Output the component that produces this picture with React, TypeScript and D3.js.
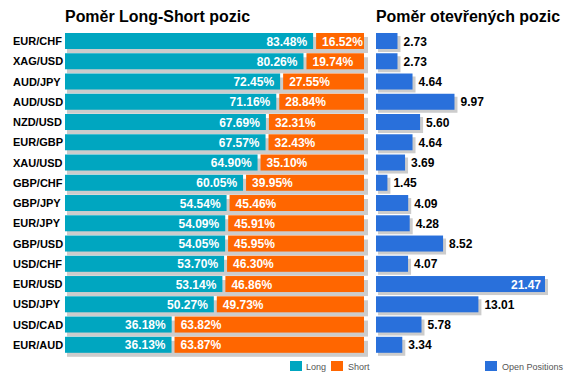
import React from "react";
import * as d3 from "d3";

const pairs = ["EUR/CHF","XAG/USD","AUD/JPY","AUD/USD","NZD/USD","EUR/GBP","XAU/USD","GBP/CHF","GBP/JPY","EUR/JPY","GBP/USD","USD/CHF","EUR/USD","USD/JPY","USD/CAD","EUR/AUD"];
const longPct = [83.48,80.26,72.45,71.16,67.69,67.57,64.90,60.05,54.54,54.09,54.05,53.70,53.14,50.27,36.18,36.13];
const shortPct = [16.52,19.74,27.55,28.84,32.31,32.43,35.10,39.95,45.46,45.91,45.95,46.30,46.86,49.73,63.82,63.87];
const openPos = [2.73,2.73,4.64,9.97,5.60,4.64,3.69,1.45,4.09,4.28,8.52,4.07,21.47,13.01,5.78,3.34];

const TEAL = "#00A6C0";
const ORANGE = "#FF6600";
const BLUE = "#2970DB";
const SHADOW = "#CCCCCC";
const FONT = "'Liberation Sans', Arial, sans-serif";

export default function App() {
  const W = 571, H = 382;
  const y = d3.scaleBand<string>().domain(pairs).range([33, 353]).paddingInner(0.2).paddingOuter(0);
  const xL = d3.scaleLinear().domain([0, 100]).range([65, 364]);
  const xR = d3.scaleLinear().domain([0, 21.47]).range([376, 545]);
  const bh = 16;
  const gap = 1.5;
  return (
    <svg width={W} height={H} style={{ position: "absolute", left: 0, top: 0, background: "#fff" }} fontFamily={FONT}>
      <text x={65} y={22} fontSize={16} fontWeight="bold" fill="#000" textLength={185} lengthAdjust="spacingAndGlyphs">Poměr Long-Short pozic</text>
      <text x={376} y={22} fontSize={16} fontWeight="bold" fill="#000" textLength={184} lengthAdjust="spacingAndGlyphs">Poměr otevřených pozic</text>
      {pairs.map((p, i) => {
        const y0 = (y(p) as number);
        const lEnd = xL(longPct[i]);
        return (
          <g key={p}>
            <text x={13} y={y0 + bh / 2 + 4} fontSize={11} fontWeight="bold" fill="#000">{p}</text>
            <rect x={xL(0) + 2} y={y0 + 4} width={xL(100) - xL(0) + 2} height={bh} fill={SHADOW} />
            <rect x={xL(0)} y={y0} width={lEnd - gap - xL(0)} height={bh} fill={TEAL} />
            <rect x={lEnd + gap} y={y0} width={xL(100) - lEnd - gap} height={bh} fill={ORANGE} />
            <text x={lEnd - gap - 6} y={y0 + bh / 2 + 4.5} fontSize={12} fontWeight="bold" fill="#fff" textAnchor="end">{longPct[i].toFixed(2)}%</text>
            <text x={lEnd + gap + 6} y={y0 + bh / 2 + 4.5} fontSize={12} fontWeight="bold" fill="#fff">{shortPct[i].toFixed(2)}%</text>
            <rect x={xR(0) + 2} y={y0 + 3} width={xR(openPos[i]) - xR(0) + 1} height={bh} fill={SHADOW} />
            <rect x={xR(0)} y={y0} width={xR(openPos[i]) - xR(0)} height={bh} fill={BLUE} />
            {openPos[i] > 15 ? (
              <text x={xR(openPos[i]) - 4} y={y0 + bh / 2 + 4.5} fontSize={12} fontWeight="bold" fill="#fff" textAnchor="end">{openPos[i].toFixed(2)}</text>
            ) : (
              <text x={xR(openPos[i]) + 6} y={y0 + bh / 2 + 4.5} fontSize={12} fontWeight="bold" fill="#000">{openPos[i].toFixed(2)}</text>
            )}
          </g>
        );
      })}
      <rect x={290} y={361} width={12} height={10} fill={TEAL} />
      <text x={306} y={370} fontSize={9} fill="#555">Long</text>
      <rect x={331} y={361} width={12} height={10} fill={ORANGE} />
      <text x={348} y={370} fontSize={9} fill="#555">Short</text>
      <rect x={485} y={361} width={12} height={10} fill={BLUE} />
      <text x={502} y={370} fontSize={9} fill="#555">Open Positions</text>
    </svg>
  );
}
